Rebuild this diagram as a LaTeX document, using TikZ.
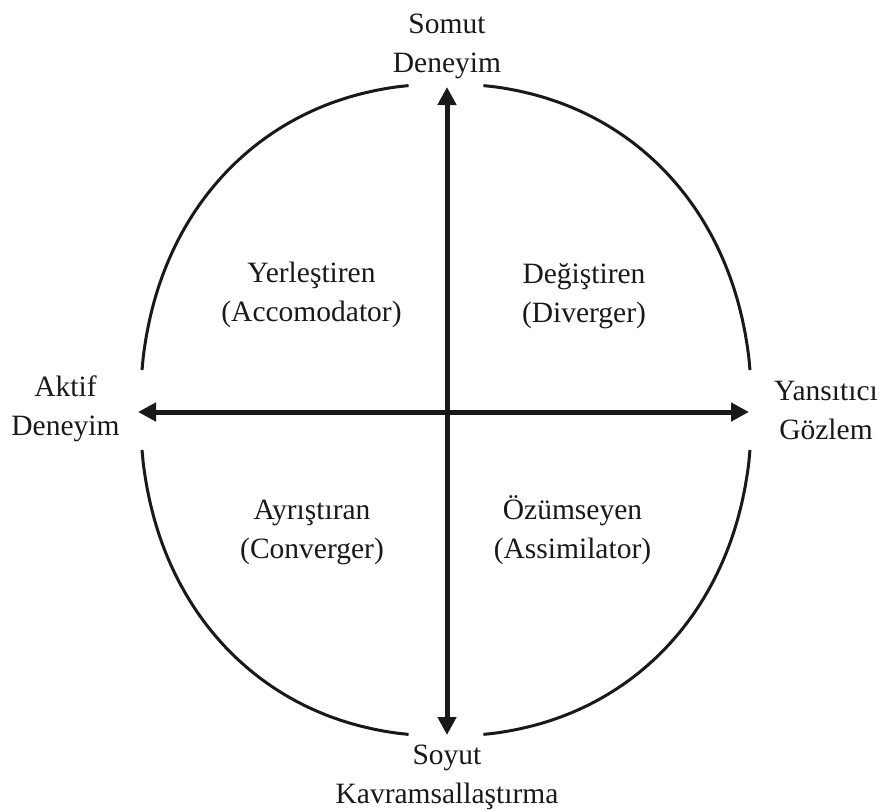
\documentclass[tikz,border=0pt]{standalone}
\usepackage{fontspec}
\setmainfont{Liberation Serif}
\usetikzlibrary{arrows.meta}
\begin{document}
\begin{tikzpicture}[x=1pt,y=-1pt,
  lbl/.style={font=\fontsize{29.5}{39}\selectfont, align=center, inner sep=0pt, anchor=base, text=black!90},
  rim/.style={line width=3pt, draw=black!90},
  axis/.style={line width=5pt, draw=black!90, {Triangle[length=18pt,width=18pt]}-{Triangle[length=18pt,width=18pt]}}]
\useasboundingbox (0,0) rectangle (882,811);
% axis end points
\coordinate (N) at (447,87);
\coordinate (S) at (447,735);
\coordinate (W) at (138,412);
\coordinate (E) at (749,412);
% outer rim (four arcs)
\draw[rim] plot[domain=6:84, samples=80, smooth, variable=\t]
  ({446 - 305.5*pow(cos(\t),0.93)}, {410 - 326*pow(sin(\t),0.93)});
\draw[rim] plot[domain=6:84, samples=80, smooth, variable=\t]
  ({446 + 305.5*pow(cos(\t),0.93)}, {410 - 326*pow(sin(\t),0.93)});
\draw[rim] plot[domain=6:84, samples=80, smooth, variable=\t]
  ({446 - 305.5*pow(cos(\t),0.93)}, {410 + 326*pow(sin(\t),0.93)});
\draw[rim] plot[domain=6:84, samples=80, smooth, variable=\t]
  ({446 + 305.5*pow(cos(\t),0.93)}, {410 + 326*pow(sin(\t),0.93)});
% axes
\draw[axis] (S) -- (N);
\draw[axis] (W) -- (E);
% labels (anchor = baseline of last line)
\node[lbl] (somut) at (447,72.6) {Somut\\Deneyim};
\node[lbl] (soyut) at (447,803.6) {Soyut\\Kavramsallaştırma};
\node[lbl] (aktif) at (65.5,435.5) {Aktif\\Deneyim};
\node[lbl] (yans) at (826,439) {Yansıtıcı\\Gözlem};
\node[lbl] (yer) at (311.5,321) {Yerleştiren\\(Accomodator)};
\node[lbl] (deg) at (584,322.5) {Değiştiren\\(Diverger)};
\node[lbl] (ayr) at (312,558) {Ayrıştıran\\(Converger)};
\node[lbl] (ozu) at (572.5,558) {Özümseyen\\(Assimilator)};
\end{tikzpicture}
\end{document}
